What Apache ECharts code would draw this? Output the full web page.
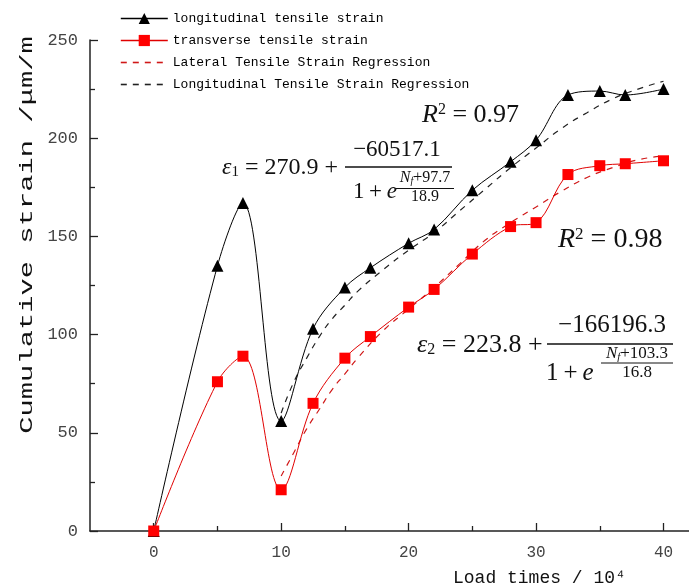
<!DOCTYPE html>
<html>
<head>
<meta charset="utf-8">
<title>Cumulative strain vs load times</title>
<script src="https://cdn.jsdelivr.net/npm/echarts@6/dist/echarts.min.js"></script>
<style>
    html, body {margin: 0; padding: 0; background: #fff;}
    #main {width: 689px; height: 588px;}
</style>
</head>
<body>
<div id="main"></div>
<script>
// measured points (load times in 10^4 cycles, strain in μm/m)
var loadTimes = [0, 5, 7, 10, 12.5, 15, 17, 20, 22, 25, 28, 30, 32.5, 35, 37, 40];
var longStrain = [0, 135, 167, 56, 103, 124, 134, 146.5, 153.5, 173.5, 188, 199, 222, 224, 222, 225];
var transStrain = [0, 76, 89, 21, 65, 88, 99, 114, 123, 141, 155, 157, 181.5, 186, 187, 188.5];

// regression curves
var regX = [10, 11, 12, 13, 14, 15, 16, 18, 20, 22, 24, 26, 28, 30, 32, 34, 36, 38, 40];
var latReg = [28, 40, 52, 62, 72, 80, 88, 102, 113, 124, 136, 148, 157, 165, 173, 180, 185, 189, 191];
var longReg = [60, 76, 88, 99, 108, 115, 122, 133, 143, 152, 163, 174, 185, 195, 205, 213, 220, 225, 229];

var xMajorTicks = [0, 10, 20, 30, 40];
var xMinorTicks = [5, 15, 25, 35];

var seriesNames = [
    'longitudinal tensile strain',
    'transverse tensile strain',
    'Lateral Tensile Strain Regression',
    'Longitudinal Tensile Strain Regression'
];

var mono = '"Liberation Mono", "DejaVu Sans Mono", monospace';
var serif = '"Liberation Serif", "DejaVu Serif", serif';

function pairs(xs, ys) {
    var out = [];
    for (var i = 0; i < xs.length; i++) {
        out.push([xs[i], ys[i]]);
    }
    return out;
}

// rich styles for the formulas
function mathRich(size) {
    var small = Math.round(size * 0.62);
    return {
        n: {fontFamily: serif, fontSize: size, fill: '#111'},
        i: {fontFamily: serif, fontSize: size, fontStyle: 'italic', fill: '#111'},
        sb: {fontFamily: serif, fontSize: small, fill: '#111', verticalAlign: 'bottom'},
        sp: {fontFamily: serif, fontSize: small, fill: '#111', verticalAlign: 'top'},
        isb: {fontFamily: serif, fontSize: small, fontStyle: 'italic', fill: '#111', verticalAlign: 'bottom'}
    };
}

function mathText(x, y, text, size, align) {
    return {
        type: 'text', x: x, y: y, z: 10,
        style: {
            text: text, rich: mathRich(size),
            font: size + 'px ' + serif, fill: '#111',
            textAlign: align || 'left', textVerticalAlign: 'middle'
        }
    };
}

function bar(x1, x2, y, w) {
    return {
        type: 'line', z: 10,
        shape: {x1: x1, y1: y, x2: x2, y2: y},
        style: {stroke: '#111', lineWidth: w || 1.4}
    };
}

var chart = echarts.init(document.getElementById('main'));

var option = {
    animation: false,
    backgroundColor: '#fff',
    grid: {left: 90, right: 0, top: 40, bottom: 57, containLabel: false},
    legend: {
        orient: 'vertical',
        left: 120,
        top: 12,
        padding: 0,
        itemWidth: 47,
        itemHeight: 14,
        itemGap: 9,
        textStyle: {fontFamily: mono, fontSize: 13, color: '#000'},
        lineStyle: {width: 1.6},
        data: [
            {name: seriesNames[0]},
            {name: seriesNames[1]},
            {name: seriesNames[2], itemStyle: {opacity: 0}},
            {name: seriesNames[3], itemStyle: {opacity: 0}}
        ]
    },
    xAxis: [{
        type: 'value',
        position: 'bottom',
        min: -5,
        max: 42,
        axisLine: {onZero: false, lineStyle: {color: '#222', width: 1.5}},
        axisTick: {inside: true, length: 8, customValues: xMajorTicks, lineStyle: {color: '#222', width: 1.3}},
        axisLabel: {customValues: xMajorTicks, margin: 14, fontFamily: mono, fontSize: 16, color: '#444'},
        splitLine: {show: false}
    }, {
        type: 'value',
        position: 'bottom',
        min: -5,
        max: 42,
        axisLine: {show: false, onZero: false},
        axisTick: {inside: true, length: 5, customValues: xMinorTicks, lineStyle: {color: '#222', width: 1.3}},
        axisLabel: {show: false},
        splitLine: {show: false}
    }],
    yAxis: {
        type: 'value',
        min: 0,
        max: 250,
        interval: 50,
        axisLine: {show: true, onZero: false, lineStyle: {color: '#222', width: 1.5}},
        axisTick: {show: true, inside: true, length: 8, lineStyle: {color: '#222', width: 1.3}},
        minorTick: {show: true, splitNumber: 2, length: 5, lineStyle: {color: '#222', width: 1.3}},
        axisLabel: {margin: 12, fontFamily: mono, fontSize: 17, color: '#444'},
        splitLine: {show: false}
    },
    graphic: [
        {
            type: 'text', x: 27, y: 235, rotation: Math.PI / 2, scaleX: 1.6,
            style: {
                text: 'Cumulative strain /μm/m',
                font: '18px ' + mono, fill: '#111',
                textAlign: 'center', textVerticalAlign: 'middle'
            }
        },
        {
            type: 'text', x: 453, y: 578,
            style: {
                text: 'Load times / 10⁴',
                font: '18px ' + mono, fill: '#111',
                textAlign: 'left', textVerticalAlign: 'middle'
            }
        },
        // R^2 = 0.97 and epsilon_1
        mathText(422, 115, '{i|R}{sp|2}{n| = 0.97}', 26),
        mathText(222, 168, '{i|ε}{sb|1}{n| = 270.9 +}', 24),
        mathText(397, 150, '{n|−60517.1}', 23, 'center'),
        bar(345, 452, 167),
        mathText(353, 192, '{n|1\u2009+\u2009}{i|e}', 23),
        mathText(425, 178, '{i|N}{isb|f}{n|+97.7}', 16, 'center'),
        bar(396, 454, 188.5, 1),
        mathText(425, 197, '{n|18.9}', 16, 'center'),
        // R^2 = 0.98 and epsilon_2
        mathText(558, 240, '{i|R}{sp|2}{n| = 0.98}', 28),
        mathText(417, 345, '{i|ε}{sb|2}{n| = 223.8 +}', 26),
        mathText(612, 325, '{n|−166196.3}', 25, 'center'),
        bar(547, 673, 344),
        mathText(546, 373, '{n|1\u2009+\u2009}{i|e}', 25),
        mathText(637, 354, '{i|N}{isb|f}{n|+103.3}', 17, 'center'),
        bar(601, 673, 363, 1),
        mathText(637, 373, '{n|16.8}', 17, 'center')
    ],
    series: [
        {
            name: seriesNames[0],
            type: 'line',
            data: pairs(loadTimes, longStrain),
            smooth: 0.35,
            symbol: 'triangle',
            symbolSize: 12,
            lineStyle: {color: '#000', width: 1},
            itemStyle: {color: '#000'},
            z: 5
        },
        {
            name: seriesNames[1],
            type: 'line',
            data: pairs(loadTimes, transStrain),
            smooth: 0.35,
            symbol: 'rect',
            symbolSize: 11,
            lineStyle: {color: '#e00000', width: 1},
            itemStyle: {color: '#ff0000'},
            z: 5
        },
        {
            name: seriesNames[2],
            type: 'line',
            data: pairs(regX, latReg),
            smooth: true,
            symbol: 'none',
            lineStyle: {color: '#d01818', width: 1.2, type: [6, 6]},
            itemStyle: {color: '#d01818'},
            z: 3
        },
        {
            name: seriesNames[3],
            type: 'line',
            data: pairs(regX, longReg),
            smooth: true,
            symbol: 'none',
            lineStyle: {color: '#222', width: 1.2, type: [6, 6]},
            itemStyle: {color: '#222'},
            z: 3
        }
    ]
};

chart.setOption(option);
</script>
</body>
</html>
